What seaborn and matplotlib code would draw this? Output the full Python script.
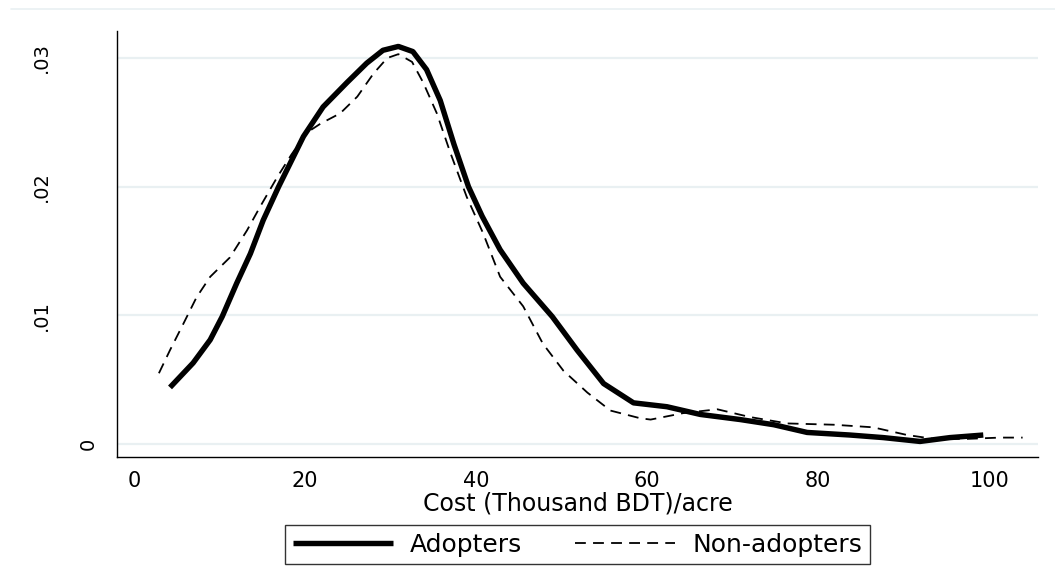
import matplotlib
matplotlib.use("Agg")
import matplotlib.pyplot as plt
from matplotlib.lines import Line2D
from matplotlib.transforms import ScaledTranslation
import seaborn as sns
import pandas as pd

# Kernel density estimates of cultivation cost per acre
adopters_x = [4.2, 6.9, 8.9, 10.3, 12.0, 13.6, 15.1, 16.9, 19.8, 22.1, 24.9, 27.2,
              29.1, 30.9, 32.6, 34.2, 35.8, 37.4, 39.1, 40.7, 42.8, 45.5, 48.9, 51.8,
              54.9, 58.4, 62.3, 66.2, 70.9, 74.8, 78.7, 83.7, 87.6, 91.9, 95.4, 99.3]
adopters_y = [0.0044, 0.0063, 0.0081, 0.0099, 0.0125, 0.0148, 0.0174, 0.0200, 0.0239,
              0.0262, 0.0281, 0.0296, 0.0306, 0.0309, 0.0305, 0.0291, 0.0267, 0.0233,
              0.0200, 0.0177, 0.0151, 0.0125, 0.0099, 0.0073, 0.0047, 0.0032, 0.0029,
              0.0023, 0.0019, 0.0015, 0.0009, 0.0007, 0.0005, 0.0002, 0.0005, 0.0007]

non_adopters_x = [2.9, 4.2, 5.8, 7.3, 8.9, 11.2, 13.2, 14.7, 16.7, 18.4, 20.2, 21.8,
                  24.1, 26.1, 28.0, 29.6, 30.9, 32.5, 33.8, 35.4, 37.0, 38.9, 40.8,
                  42.8, 45.5, 47.8, 50.2, 53.0, 55.7, 59.2, 60.4, 64.2, 68.2, 72.0,
                  76.4, 81.8, 86.4, 90.4, 93.5, 97.4, 101.3, 103.9]
non_adopters_y = [0.0055, 0.0073, 0.0094, 0.0114, 0.0130, 0.0145, 0.0166, 0.0184,
                  0.0207, 0.0225, 0.0242, 0.0249, 0.0257, 0.0270, 0.0288, 0.0300,
                  0.0303, 0.0297, 0.0281, 0.0257, 0.0226, 0.0192, 0.0164, 0.0130,
                  0.0107, 0.0078, 0.0057, 0.0040, 0.0026, 0.0020, 0.0019, 0.0024,
                  0.0027, 0.0021, 0.0016, 0.0015, 0.0013, 0.0007, 0.0004, 0.0004,
                  0.0005, 0.0005]

x_ticks = [0, 20, 40, 60, 80, 100]
y_ticks = [0, 0.01, 0.02, 0.03]
y_tick_labels = ["0", ".01", ".02", ".03"]
series_names = ["Adopters", "Non-adopters"]
x_label = "Cost (Thousand BDT)/acre"

sns.set_style("white")
plt.rcParams["font.family"] = ["DejaVu Sans"]
plt.rcParams["text.color"] = "black"
plt.rcParams["xtick.color"] = "black"
plt.rcParams["ytick.color"] = "black"
plt.rcParams["axes.labelcolor"] = "black"

adopt_df = pd.DataFrame({"cost": adopters_x, "density": adopters_y})
non_df = pd.DataFrame({"cost": non_adopters_x, "density": non_adopters_y})

fig = plt.figure(figsize=(10.55, 5.86), dpi=100)
ax = fig.add_axes([0.1109, 0.2201, 0.8730, 0.7270])

grid_color = "#e9f0f2"
for yv in y_ticks:
    ax.axhline(yv, color=grid_color, lw=1.6, zorder=0)

sns.lineplot(data=adopt_df, x="cost", y="density", ax=ax, color="black",
             linewidth=3.9, label=series_names[0], sort=False,
             solid_capstyle="butt", solid_joinstyle="round", zorder=3)
sns.lineplot(data=non_df, x="cost", y="density", ax=ax, color="black",
             linewidth=1.3, label=series_names[1], sort=False,
             dashes=(6, 4), dash_joinstyle="round", zorder=2)

ax.set_xlim(-2.0, 105.7)
ax.set_ylim(-0.00101, 0.0321)
ax.set_xticks(x_ticks)
ax.set_xticklabels([str(v) for v in x_ticks], fontsize=15)
ax.set_yticks(y_ticks)
ax.set_yticklabels(y_tick_labels, fontsize=14, rotation=90, va="center")
ax.tick_params(axis="x", direction="out", length=5, width=1, color="black", pad=5)
ax.tick_params(axis="y", direction="out", length=7.5, width=1, color="black", pad=40)

# the zero label sits closer to its tick
zero_lbl = ax.yaxis.get_major_ticks()[0].label1
zero_lbl.set_transform(zero_lbl.get_transform() +
                       ScaledTranslation(34 / 72, 0, fig.dpi_scale_trans))

ax.set_xlabel(x_label, fontsize=17, labelpad=0.5)
ax.set_ylabel("")

for side in ["top", "right"]:
    ax.spines[side].set_visible(False)
for side in ["left", "bottom"]:
    ax.spines[side].set_color("black")
    ax.spines[side].set_linewidth(1.0)

leg = ax.legend(loc="upper center", bbox_to_anchor=(0.5, -0.1596), ncol=2,
                fontsize=18, frameon=True, fancybox=False, edgecolor="#333333",
                framealpha=1, borderaxespad=0, borderpad=0.3,
                handlelength=4.0, handletextpad=0.7, columnspacing=2.1)
leg.get_frame().set_linewidth(1.0)

fig.add_artist(Line2D([0.01, 1.0], [1 - 9 / 586, 1 - 9 / 586],
                      transform=fig.transFigure, color=grid_color, lw=1.2))

fig.savefig("out.png", dpi=100, facecolor="white")
